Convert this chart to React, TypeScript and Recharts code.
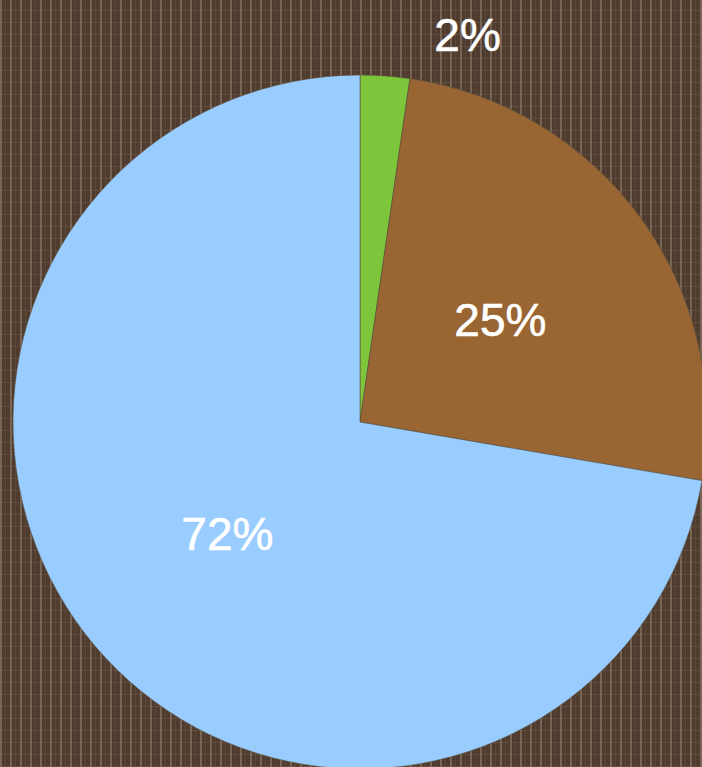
import { PieChart, Pie, Cell } from 'recharts';

const slices = ['green', 'brown', 'blue'];
const values = [2.3, 25.4, 72.3];
const labels = ['2%', '25%', '72%'];
const colors = ['#7dc63c', '#996633', '#99ccff'];

const data = slices.map((name, i) => ({ name, value: values[i], label: labels[i] }));

const RADIAN = Math.PI / 180;

const renderLabel = (props: any) => {
  const { cx, cy, midAngle, outerRadius, index } = props;
  const small = values[index] / 100 < 0.05;
  let x: number;
  let y: number;
  if (small) {
    x = cx + outerRadius * 0.31;
    y = cy - outerRadius - 40;
  } else {
    const r = outerRadius * 0.5;
    x = cx + r * Math.cos(-midAngle * RADIAN);
    y = cy + r * Math.sin(-midAngle * RADIAN);
  }
  return (
    <text
      x={x}
      y={y}
      fill="#ffffff"
      stroke="#ffffff"
      strokeWidth={0.6}
      textAnchor="middle"
      dominantBaseline="central"
      fontSize={46}
      fontFamily="'Liberation Sans', Arial, sans-serif"
    >
      {labels[index]}
    </text>
  );
};

const App = () => {
  return (
    <div
      style={{
        position: 'absolute',
        left: 0,
        top: 0,
        width: 702,
        height: 767,
        overflow: 'hidden',
        backgroundColor: '#503c2e',
        backgroundImage:
          'repeating-linear-gradient(90deg, rgba(128,110,94,0.8) 0px, rgba(128,110,94,0.8) 2px, transparent 2px, transparent 5px, rgba(110,92,78,0.35) 5px, rgba(110,92,78,0.35) 6px, transparent 6px, transparent 10px), repeating-linear-gradient(0deg, rgba(115,97,82,0.45) 0px, rgba(115,97,82,0.45) 1px, transparent 1px, transparent 12px)',
      }}
    >
      <PieChart width={702} height={767} margin={{ top: 0, right: 0, bottom: 0, left: 0 }}>
        <Pie
          data={data}
          dataKey="value"
          cx={360}
          cy={422}
          outerRadius={347}
          startAngle={90}
          endAngle={-270}
          stroke="#5a5040"
          strokeWidth={0.6}
          label={renderLabel}
          labelLine={false}
          isAnimationActive={false}
        >
          {data.map((d, i) => (
            <Cell key={d.name} fill={colors[i]} />
          ))}
        </Pie>
      </PieChart>
    </div>
  );
};

export default App;
